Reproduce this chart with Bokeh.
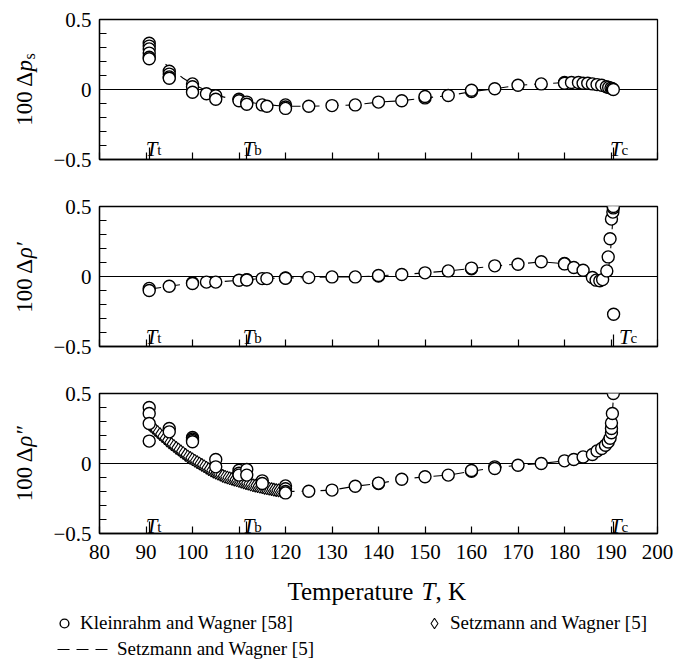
import math

from bokeh.core.properties import value
from bokeh.embed import file_html
from bokeh.layouts import column, row
from bokeh.models import FixedTicker, Label, Legend, LegendItem, Range1d, Span
from bokeh.plotting import figure
from bokeh.resources import INLINE

SERIF = "'Liberation Serif', 'Times New Roman', serif"
PANEL_TEXT_STYLE = {"font-family": "'Liberation Serif', serif", "font-size": "21px"}

# Characteristic temperatures of methane, K
T_TRIPLE = 90.69
T_BOIL = 111.67
T_CRIT = 190.56
T_MARKS = [T_TRIPLE, T_BOIL, T_CRIT]
T_MARK_SUBS = ["t", "b", "c"]

TEMP_TICKS = [80, 90, 100, 110, 120, 130, 140, 150, 160, 170, 180, 190, 200]
DEV_TICKS = [-0.5, 0, 0.5]
DEV_MINOR = [-0.4, -0.3, -0.2, -0.1, 0.1, 0.2, 0.3, 0.4]
DEV_LABELS = {-0.5: "\u22120.5", 0: "0", 0.5: "0.5"}

# --- vapour pressure deviations, 100*dp_s -------------------------------
PS_KW_T = [90.69, 90.69, 90.69, 90.69, 90.69, 90.69,
           95, 95, 95, 95,
           100, 100, 100,
           103, 105, 105,
           110, 110, 111.67, 111.67,
           115, 116, 120, 120, 120,
           125, 130, 135, 140, 145, 150, 150, 155, 160, 160, 165, 170, 175,
           180, 180, 181.5, 183, 184, 185, 186, 187, 188, 189, 189.5, 190, 190.3, 190.5]
PS_KW_DEV = [0.33, 0.31, 0.29, 0.26, 0.23, 0.22,
             0.13, 0.11, 0.09, 0.08,
             0.04, 0.02, -0.02,
             -0.03, -0.045, -0.07,
             -0.07, -0.08, -0.09, -0.105,
             -0.11, -0.12, -0.11, -0.125, -0.135,
             -0.12, -0.115, -0.11, -0.09, -0.08, -0.06, -0.05, -0.043, -0.015, -0.005, 0.005, 0.03, 0.04,
             0.05, 0.045, 0.05, 0.05, 0.045, 0.045, 0.04, 0.035, 0.03, 0.02, 0.015, 0.01, 0.005, 0.0]
PS_SW_T = [94.2, 95, 98, 100, 105, 110, 115, 120, 125, 130, 135, 140, 145, 150,
           155, 160, 165, 170, 175, 180, 185, 188, 190, 190.56]
PS_SW_DEV = [0.18, 0.16, 0.08, 0.04, -0.04, -0.08, -0.105, -0.12, -0.12, -0.115, -0.11, -0.09, -0.08, -0.06,
             -0.045, -0.015, 0.005, 0.03, 0.04, 0.05, 0.04, 0.025, 0.01, 0.0]

# --- saturated liquid density deviations, 100*drho' ----------------------
RL_KW_T = [90.69, 90.69, 95, 100, 100, 103, 105, 110, 111.67, 111.67,
           115, 116, 120, 120, 125, 130, 135, 140, 140, 145,
           150, 155, 160, 160, 165, 170, 175, 180, 180, 182,
           184, 186, 186.8, 187.6, 188.2, 189.1, 189.4, 189.8, 190.1, 190.4,
           190.5, 190.5, 190.56]
RL_KW_DEV = [-0.085, -0.1, -0.07, -0.045, -0.05, -0.04, -0.04, -0.027, -0.022, -0.025,
             -0.015, -0.015, -0.01, -0.012, -0.008, -0.003, -0.003, 0.003, 0.007, 0.014,
             0.026, 0.04, 0.055, 0.06, 0.076, 0.088, 0.105, 0.093, 0.09, 0.064,
             0.045, -0.007, -0.026, -0.03, -0.022, 0.04, 0.14, 0.27, 0.41, 0.46,
             0.49, 0.5, -0.27]
RL_SW_T = [90.69, 95, 100, 105, 110, 115, 120, 125, 130, 135,
           140, 145, 150, 155, 160, 165, 170, 175, 180, 182,
           184, 186, 187, 188, 188.8, 189.4, 189.8, 190.1, 190.4, 190.56]
RL_SW_DEV = [-0.09, -0.07, -0.047, -0.04, -0.027, -0.015, -0.011, -0.008, -0.003, -0.003,
             0.005, 0.014, 0.026, 0.04, 0.057, 0.076, 0.088, 0.105, 0.092, 0.064,
             0.045, -0.007, -0.026, -0.03, -0.022, 0.04, 0.14, 0.27, 0.41, 0.5]

# --- saturated vapour density deviations, 100*drho'' ---------------------
RV_KW_T = [90.69, 90.69, 90.69, 90.69, 95, 95, 100, 100, 100, 100,
           105, 105, 110, 110, 110, 111.67, 111.67, 115, 115, 120,
           120, 120, 120, 125, 130, 135, 140, 140, 145, 150,
           155, 160, 160, 165, 165, 170, 175, 180, 182, 184,
           186, 187, 188, 188.8, 189.4, 189.8, 190.1, 190.1, 190.1, 190.3,
           190.5]
RV_KW_DEV = [0.40, 0.357, 0.286, 0.16, 0.25, 0.226, 0.186, 0.175, 0.165, 0.155,
             0.029, -0.024, -0.048, -0.07, -0.083, -0.043, -0.083, -0.124, -0.143, -0.16,
             -0.18, -0.2, -0.21, -0.198, -0.19, -0.162, -0.143, -0.14, -0.112, -0.095,
             -0.083, -0.055, -0.05, -0.024, -0.036, -0.012, 0.0, 0.019, 0.029, 0.047,
             0.064, 0.09, 0.107, 0.13, 0.154, 0.18, 0.22, 0.25, 0.29, 0.357,
             0.5]
RV_SWD_T = [90.7, 91.0, 91.5, 92.0, 92.5, 93.0, 93.5, 94.0, 94.5, 95.0,
            95.5, 96.0, 96.5, 97.0, 97.5, 98.0, 98.5, 99.0, 99.5, 100.0,
            100.5, 101.0, 101.5, 102.0, 102.5, 103.0, 103.5, 104.0, 104.5, 105.0,
            105.5, 106.0, 106.5, 107.0, 107.5, 108.0, 108.5, 109.0, 109.5, 110.0,
            110.5, 111.0, 111.5, 112.0, 112.5, 113.0, 113.5, 114.0, 114.5, 115.0,
            115.5, 116.0, 116.5, 117.0, 117.5, 118.0, 118.5, 119.0, 119.5, 120.0]
RV_SWD_DEV = [0.28, 0.27, 0.255, 0.24, 0.225, 0.21, 0.195, 0.18, 0.165, 0.15,
              0.138, 0.125, 0.112, 0.10, 0.087, 0.075, 0.062, 0.05, 0.04, 0.03,
              0.02, 0.01, 0.0, -0.01, -0.02, -0.03, -0.04, -0.05, -0.058, -0.065,
              -0.073, -0.08, -0.088, -0.095, -0.1, -0.105, -0.11, -0.115, -0.12, -0.125,
              -0.13, -0.135, -0.14, -0.145, -0.15, -0.155, -0.158, -0.162, -0.166, -0.17,
              -0.174, -0.177, -0.18, -0.183, -0.187, -0.19, -0.192, -0.195, -0.197, -0.2]
RV_SW_T = [90.69, 95, 100, 105, 110, 115, 120, 125, 130, 135,
           140, 145, 150, 155, 160, 165, 170, 175, 180, 182,
           184, 186, 187, 188, 188.8, 189.4, 189.8, 190.1, 190.3, 190.56]
RV_SW_DEV = [0.28, 0.15, 0.03, -0.065, -0.125, -0.17, -0.2, -0.198, -0.19, -0.162,
             -0.143, -0.112, -0.095, -0.083, -0.055, -0.03, -0.012, 0.0, 0.019, 0.029,
             0.047, 0.064, 0.09, 0.107, 0.13, 0.154, 0.18, 0.25, 0.357, 0.5]

LEGEND_KW = "Kleinrahm and Wagner [58]"
LEGEND_SW = "Setzmann and Wagner [5]"

LINE_STYLE = dict(line_color="black", line_width=1.1, line_dash="12 7")
CIRCLE_STYLE = dict(marker="circle", size=12, fill_color="white", line_color="black", line_width=1.4)
DIAMOND_STYLE = dict(marker="diamond", size=13, fill_color="white", line_color="black", line_width=1.1)

x_range = Range1d(80, 200)


def make_panel(height, border_top, border_bottom, tick_labels):
    p = figure(width=623, height=height, x_range=x_range, y_range=Range1d(-0.5, 0.5),
               output_backend="svg", toolbar_location=None,
               min_border_left=45, min_border_right=16,
               min_border_top=border_top, min_border_bottom=border_bottom,
               styles=PANEL_TEXT_STYLE)
    p.grid.visible = False
    p.outline_line_color = "black"
    p.outline_line_width = 1.3
    p.background_fill_color = "white"
    p.border_fill_color = "white"

    xa = p.xaxis[0]
    xa.ticker = FixedTicker(ticks=TEMP_TICKS, minor_ticks=T_MARKS)
    xa.axis_line_width = 1.3
    xa.major_tick_in = 7
    xa.major_tick_out = 0
    xa.minor_tick_in = 12
    xa.minor_tick_out = 0
    xa.major_tick_line_width = 1.2
    xa.minor_tick_line_width = 1.2
    xa.major_label_text_font = SERIF
    if tick_labels:
        xa.major_label_text_font_size = "21px"
        xa.major_label_text_color = "black"
        xa.major_label_standoff = 11
    else:
        xa.major_label_text_font_size = "0px"
        xa.major_label_standoff = 0

    ya = p.yaxis[0]
    ya.ticker = FixedTicker(ticks=DEV_TICKS, minor_ticks=DEV_MINOR)
    ya.major_label_overrides = DEV_LABELS
    ya.axis_line_width = 1.3
    ya.major_tick_in = 7
    ya.major_tick_out = 0
    ya.minor_tick_in = 7
    ya.minor_tick_out = 0
    ya.major_tick_line_width = 1.2
    ya.minor_tick_line_width = 1.2
    ya.major_label_text_font = SERIF
    ya.major_label_text_font_size = "21px"
    ya.major_label_text_color = "black"
    ya.major_label_standoff = 8

    p.add_layout(Span(location=0, dimension="width", line_color="black",
                      line_width=1.2, level="underlay"))
    return p


def blank_canvas(width, height, x0, y0):
    # pixel-addressed drawing area with y growing downwards
    c = figure(width=width, height=height, x_range=Range1d(x0, x0 + width),
               y_range=Range1d(y0 + height, y0), x_axis_type=None, y_axis_type=None,
               output_backend="svg", toolbar_location=None, min_border=0)
    c.grid.visible = False
    c.outline_line_color = None
    c.background_fill_color = "white"
    c.border_fill_color = "white"
    return c


def mark_temperatures(p, base_px, offsets):
    for t, sub, dx in zip(T_MARKS, T_MARK_SUBS, offsets):
        p.add_layout(Label(x=t, y=-0.5, x_offset=dx, y_offset=base_px, text="T",
                           text_font=SERIF, text_font_style="italic",
                           text_font_size="21px", text_color="black",
                           text_align="left", text_baseline="alphabetic"))
        p.add_layout(Label(x=t, y=-0.5, x_offset=dx + 11.5, y_offset=base_px - 1,
                           text=sub, text_font=SERIF, text_font_size="15px",
                           text_color="black", text_align="left",
                           text_baseline="alphabetic"))


def y_title(c, center_y, pieces):
    # pieces: (text, style, font px, advance px, baseline shift px); text runs upwards
    total = sum(piece[3] for piece in pieces)
    pos = center_y + total / 2
    for text, style, size, advance, shift in pieces:
        c.add_layout(Label(x=24 + shift, y=pos, angle=math.pi / 2, text=text,
                           text_font=SERIF, text_font_style=style,
                           text_font_size=f"{size}px", text_color="black",
                           text_align="left", text_baseline="alphabetic"))
        pos -= advance


def legend_entry(c, label, renderer, location, glyph_size, standoff, glyph_width=None):
    c.add_layout(Legend(items=[LegendItem(label=value(label), renderers=[renderer])],
                        location=location, orientation="horizontal",
                        glyph_width=glyph_width or glyph_size, glyph_height=glyph_size,
                        label_height=glyph_size, label_standoff=standoff,
                        label_text_font=SERIF, label_text_font_size="19px",
                        label_text_color="black", padding=0, margin=0, spacing=0,
                        border_line_color=None, background_fill_alpha=0))


# Panel 1: vapour pressure
p1 = make_panel(183, 19, 24, False)
p1.line(PS_SW_T, PS_SW_DEV, **LINE_STYLE)
p1.scatter(PS_KW_T, PS_KW_DEV, **CIRCLE_STYLE)
mark_temperatures(p1, 11, [-3.5, -4, -3.5])

# Panel 2: saturated liquid density
p2 = make_panel(187, 23, 24, False)
p2.line(RL_SW_T, RL_SW_DEV, **LINE_STYLE)
p2.scatter(RL_KW_T, RL_KW_DEV, **CIRCLE_STYLE)
mark_temperatures(p2, 10, [-3.5, -4, 5.5])

# Panel 3: saturated vapour density
p3 = make_panel(200, 23, 37, True)
p3.line(RV_SW_T, RV_SW_DEV, **LINE_STYLE)
p3.scatter(RV_SWD_T, RV_SWD_DEV, **DIAMOND_STYLE)
p3.scatter(RV_KW_T, RV_KW_DEV, **CIRCLE_STYLE)
mark_temperatures(p3, 8, [-3.5, -4, -3.5])

# Left strip with the rotated quantity names
side = blank_canvas(50, 570, 0, 0)
y_title(side, 89, [("100 \u0394", "normal", 23, 54.3, 0), ("p", "italic", 23, 12.0, 0),
                   ("s", "normal", 16, 6.2, 5)])
y_title(side, 276, [("100 \u0394", "normal", 23, 54.3, 0), ("\u03c1\u2032", "italic", 23, 18.0, 0)])
y_title(side, 463, [("100 \u0394", "normal", 23, 54.3, 0), ("\u03c1\u2033", "italic", 23, 21.0, 0)])

# Bottom strip: axis title and legend
foot = blank_canvas(673, 98, 0, 570)
for text, style, x in [("Temperature", "normal", 287), ("T", "italic", 421), (", K", "normal", 435)]:
    foot.add_layout(Label(x=x, y=591, text=text, text_font=SERIF, text_font_style=style,
                          text_font_size="25px", text_color="black", text_align="left",
                          text_baseline="alphabetic"))

# hidden copies of the panel-3 series give the legend its keys
key_circle = foot.scatter(RV_KW_T, RV_KW_DEV, visible=False, **CIRCLE_STYLE)
key_diamond = foot.scatter(RV_SWD_T, RV_SWD_DEV, visible=False, **DIAMOND_STYLE)
key_line = foot.line(RV_SW_T, RV_SW_DEV, visible=False, **LINE_STYLE)
legend_entry(foot, LEGEND_KW, key_circle, (53, 34), 22, 5)
legend_entry(foot, LEGEND_SW, key_diamond, (421, 32), 26, 3)
legend_entry(foot, LEGEND_SW, key_line, (57, 8), 20, 9, glyph_width=51)

layout = column(row(side, column(p1, p2, p3, spacing=0), spacing=0), foot, spacing=0)

open("out.html", "w").write(file_html(layout, INLINE))
